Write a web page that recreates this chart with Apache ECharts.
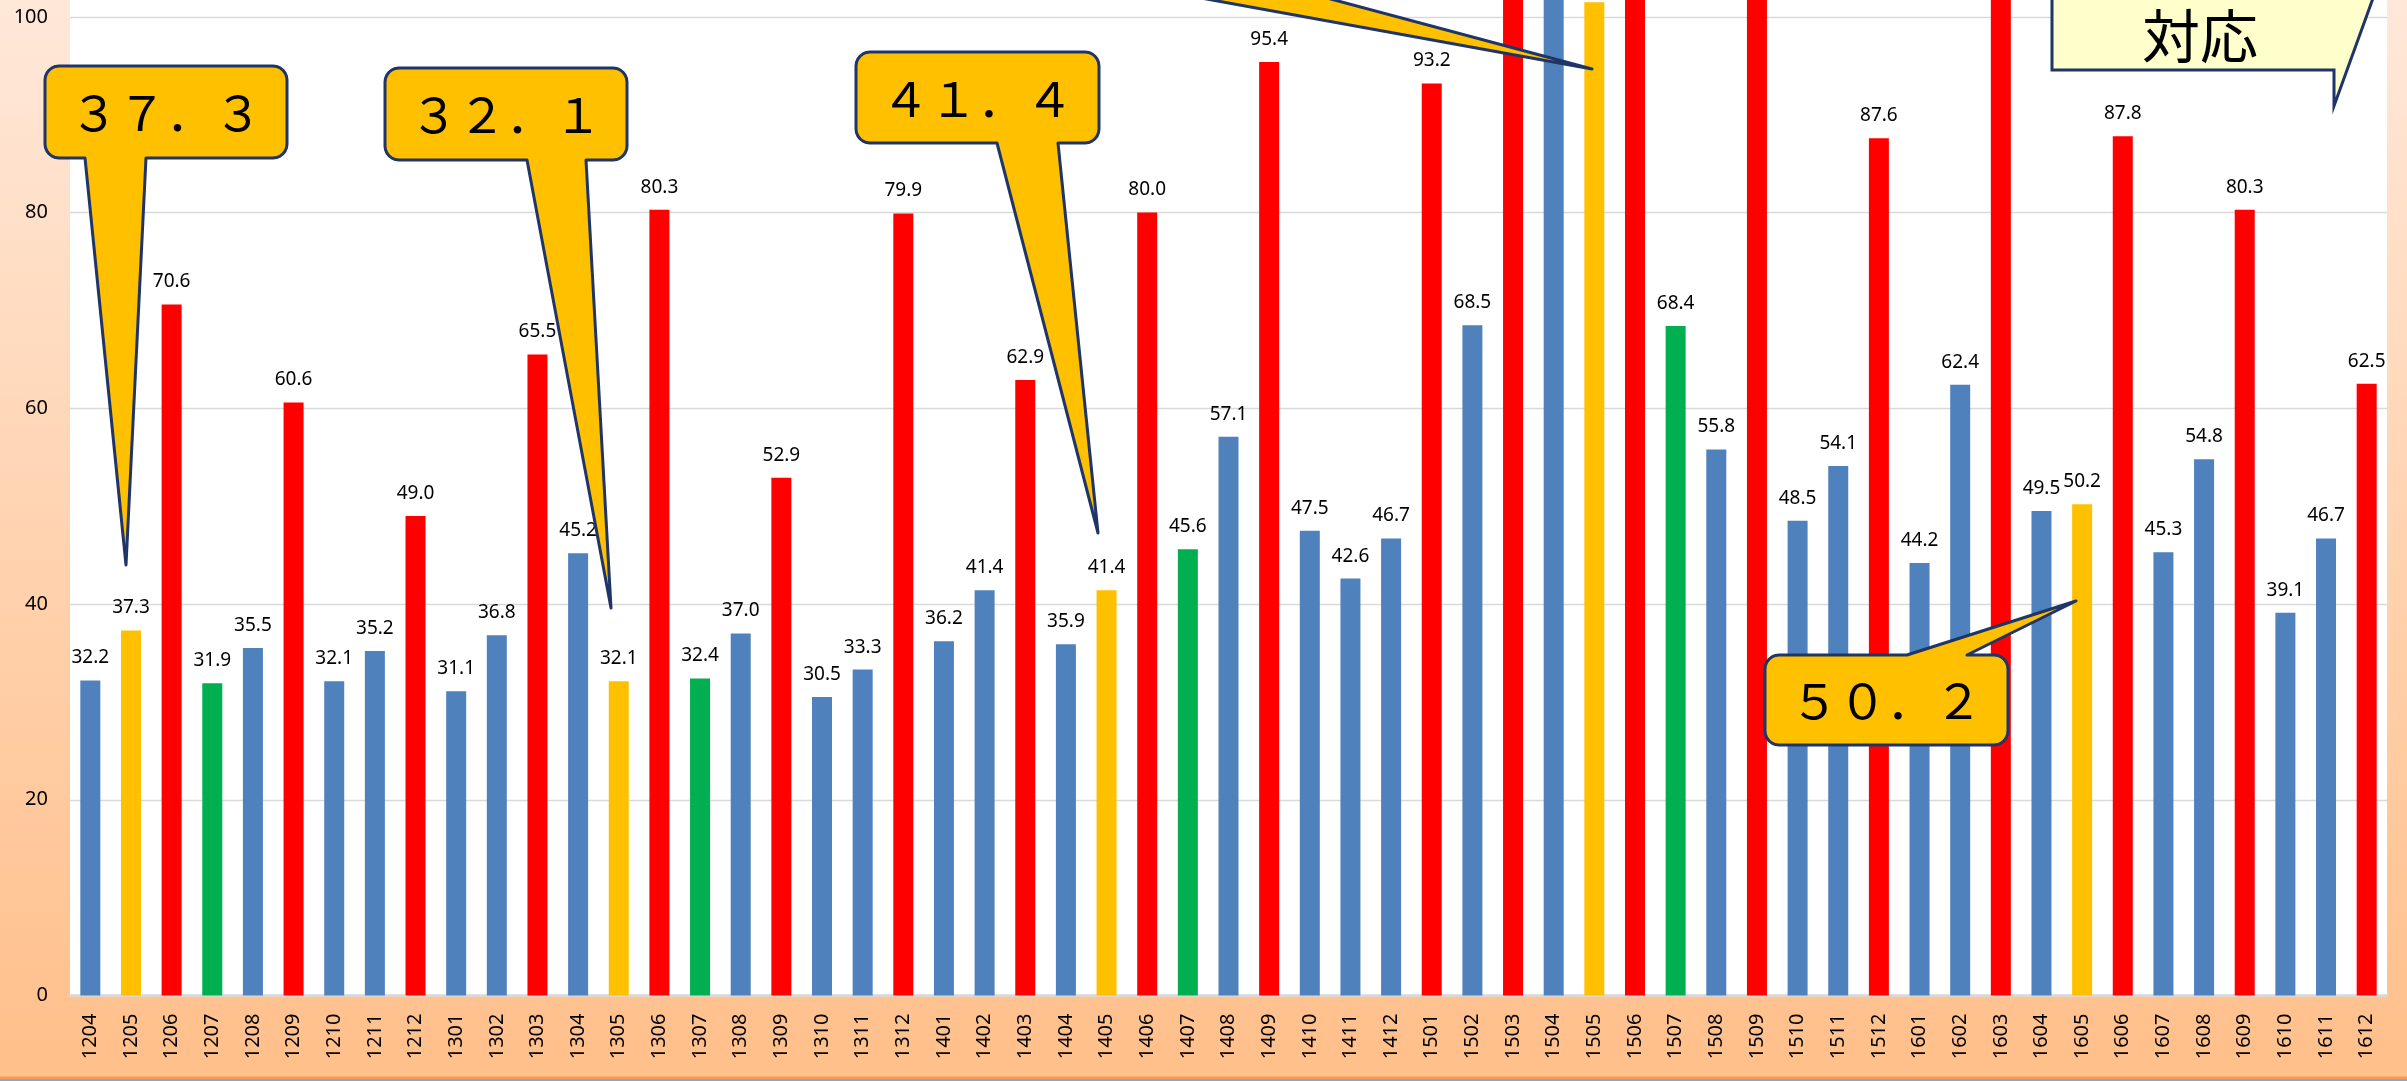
<!DOCTYPE html>
<html>
<head>
<meta charset="utf-8">
<script src="https://cdn.jsdelivr.net/npm/echarts@6/dist/echarts.min.js"></script>
<style>
html,body{margin:0;padding:0;}
#main{width:2407px;height:1081px;}
</style>
</head>
<body>
<div id="main"></div>
<script>
const categories = ['1204','1205','1206','1207','1208','1209','1210','1211','1212',
  '1301','1302','1303','1304','1305','1306','1307','1308','1309','1310','1311','1312',
  '1401','1402','1403','1404','1405','1406','1407','1408','1409','1410','1411','1412',
  '1501','1502','1503','1504','1505','1506','1507','1508','1509','1510','1511','1512',
  '1601','1602','1603','1604','1605','1606','1607','1608','1609','1610','1611','1612'];
const values = [32.2,37.3,70.6,31.9,35.5,60.6,32.1,35.2,49.0,
  31.1,36.8,65.5,45.2,32.1,80.3,32.4,37.0,52.9,30.5,33.3,79.9,
  36.2,41.4,62.9,35.9,41.4,80.0,45.6,57.1,95.4,47.5,42.6,46.7,
  93.2,68.5,121.6,108.3,101.5,118.4,68.4,55.8,134.7,48.5,54.1,87.6,
  44.2,62.4,112.9,49.5,50.2,87.8,45.3,54.8,80.3,39.1,46.7,62.5];
const kinds = ['b','y','r','g','b','r','b','b','r',
  'b','b','r','b','y','r','g','b','r','b','b','r',
  'b','b','r','b','y','r','g','b','r','b','b','b',
  'r','b','r','b','y','r','g','b','r','b','b','r',
  'b','b','r','b','y','r','b','b','r','b','b','r'];
const yTicks = [0, 20, 40, 60, 80, 100];
const calloutTexts = ['３７．３', '３２．１', '４１．４', '５０．２', '対応'];

const palette = { b: '#4F81BD', y: '#FFC000', r: '#FF0000', g: '#00B050' };
const NAVY = '#1F3468';

function bubble(x0, y0, x1, y1, r, tail) {
  const pts = [];
  const arc = (cx, cy, a0, a1) => {
    const n = 6;
    for (let i = 0; i <= n; i++) {
      const a = (a0 + (a1 - a0) * i / n) * Math.PI / 180;
      pts.push([cx + r * Math.cos(a), cy + r * Math.sin(a)]);
    }
  };
  // top edge
  if (tail.side === 'top') {
    pts.push([tail.b0, y0], [tail.tx, tail.ty], [tail.b1, y0]);
  }
  arc(x1 - r, y0 + r, -90, 0);
  arc(x1 - r, y1 - r, 0, 90);
  if (tail.side === 'bottom') {
    pts.push([tail.b1, y1], [tail.tx, tail.ty], [tail.b0, y1]);
  }
  arc(x0 + r, y1 - r, 90, 180);
  arc(x0 + r, y0 + r, 180, 270);
  return pts;
}

function calloutGroup(box, tail, text) {
  return [
    {
      type: 'polygon', z: 100,
      shape: { points: bubble(box[0], box[1], box[2], box[3], 14, tail) },
      style: { fill: '#FFC000', stroke: NAVY, lineWidth: 3, lineJoin: 'round' }
    },
    {
      type: 'text', z: 101,
      style: {
        text: text, x: (box[0] + box[2]) / 2, y: (box[1] + box[3]) / 2 + 1,
        align: 'center', verticalAlign: 'middle',
        font: '48px "Noto Sans CJK JP"', fill: '#000'
      }
    }
  ];
}

const chart = echarts.init(document.getElementById('main'), null, { renderer: 'canvas' });

const graphics = [].concat(
  calloutGroup([45, 66, 287, 158], { side: 'bottom', b0: 85, b1: 146, tx: 126, ty: 565 }, calloutTexts[0]),
  calloutGroup([385, 68, 627, 160], { side: 'bottom', b0: 527, b1: 586, tx: 611, ty: 608 }, calloutTexts[1]),
  calloutGroup([856, 52, 1099, 143], { side: 'bottom', b0: 997, b1: 1058, tx: 1098, ty: 533 }, calloutTexts[2]),
  calloutGroup([1765, 655, 2008, 745], { side: 'top', b0: 1907, b1: 1967, tx: 2076, ty: 601 }, calloutTexts[3]),
  [
    {
      type: 'polygon', z: 100,
      shape: { points: [[1179, -6], [1312, -6], [1592, 69]] },
      style: { fill: '#FFC000', stroke: NAVY, lineWidth: 3, lineJoin: 'round' }
    },
    {
      type: 'polygon', z: 100,
      shape: { points: [[2052, -10], [2376, -10], [2334, 106], [2334, 70], [2052, 70]] },
      style: { fill: '#FFFFCC', stroke: NAVY, lineWidth: 3, lineJoin: 'miter' }
    },
    {
      type: 'text', z: 101,
      style: {
        text: calloutTexts[4], x: 2200, y: 36, align: 'center', verticalAlign: 'middle',
        font: '58px "Noto Sans CJK JP"', fill: '#000'
      }
    },
    {
      type: 'rect', z: 0,
      shape: { x: 0, y: 1076.5, width: 2407, height: 2.5 },
      style: { fill: '#F59A52' }
    },
    {
      type: 'rect', z: 0,
      shape: { x: 0, y: 1079, width: 2407, height: 2 },
      style: { fill: '#8CA6C6' }
    }
  ]
);

chart.setOption({
  animation: false,
  backgroundColor: {
    type: 'linear', x: 0, y: 0, x2: 0, y2: 1,
    colorStops: [
      { offset: 0, color: '#FFE8D9' },
      { offset: 0.5, color: '#FFD3B0' },
      { offset: 1, color: '#FFBF8A' }
    ]
  },
  grid: {
    left: 70, right: 20, top: -81, bottom: 85.5,
    show: true, backgroundColor: '#FFFFFF', borderWidth: 0,
    containLabel: false, outerBoundsMode: 'none'
  },
  xAxis: {
    type: 'category',
    data: categories,
    boundaryGap: true,
    axisLine: { show: true, lineStyle: { color: '#D9D9D9', width: 2.5 } },
    axisTick: { show: false },
    axisLabel: {
      interval: 0, rotate: 90, margin: 18,
      fontFamily: 'Noto Sans', fontSize: 20, color: '#000'
    },
    splitLine: { show: false }
  },
  yAxis: {
    type: 'value',
    min: yTicks[0], max: 110, interval: yTicks[1] - yTicks[0],
    axisLine: { show: false },
    axisTick: { show: false },
    axisLabel: {
      margin: 22, fontFamily: 'Noto Sans', fontSize: 20, color: '#000',
      showMaxLabel: false,
      formatter: v => (yTicks.indexOf(v) >= 0 ? String(v) : '')
    },
    splitLine: { show: true, lineStyle: { color: '#D9D9D9', width: 1.3 } }
  },
  series: [{
    type: 'bar',
    data: values,
    barWidth: 20,
    itemStyle: { color: p => palette[kinds[p.dataIndex]] },
    label: {
      show: true, position: 'top', distance: 13,
      fontFamily: 'Noto Sans', fontSize: 19, color: '#000',
      formatter: p => Number(p.value).toFixed(1)
    }
  }],
  graphic: { elements: graphics }
});
</script>
</body>
</html>
